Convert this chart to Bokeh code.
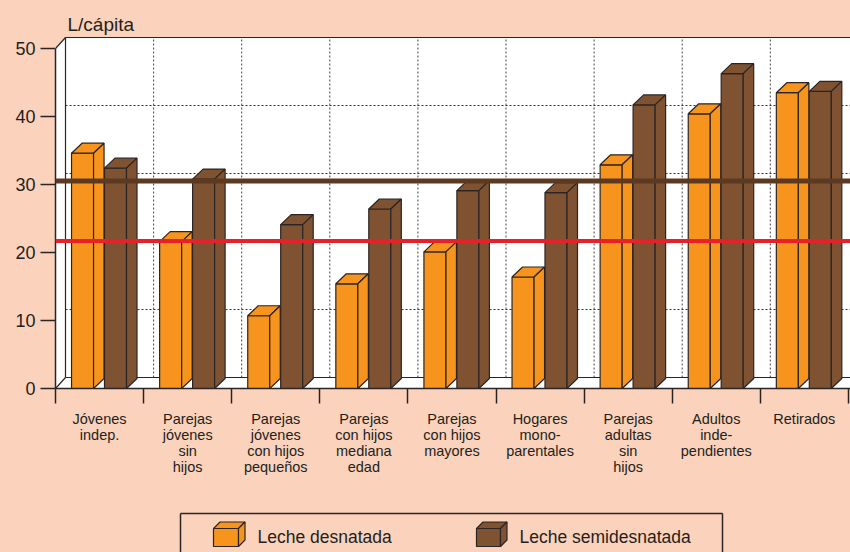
from bokeh.plotting import figure
from bokeh.models import Range1d, FixedTicker, Span, Label
from bokeh.layouts import column
from bokeh.core.properties import value
from bokeh.embed import file_html
from bokeh.resources import INLINE

# ---------------- data ----------------
categories = [
    "Jóvenes\nindep.",
    "Parejas\njóvenes\nsin\nhijos",
    "Parejas\njóvenes\ncon hijos\npequeños",
    "Parejas\ncon hijos\nmediana\nedad",
    "Parejas\ncon hijos\nmayores",
    "Hogares\nmono-\nparentales",
    "Parejas\nadultas\nsin\nhijos",
    "Adultos\ninde-\npendientes",
    "Retirados",
]
desnatada = [34.6, 21.6, 10.7, 15.4, 20.1, 16.4, 32.9, 40.4, 43.5]
semidesnatada = [32.4, 30.8, 24.1, 26.4, 29.1, 28.8, 41.7, 46.3, 43.7]
media_semidesnatada = 30.5
media_desnatada = 21.7
y_ticks = [0, 10, 20, 30, 40, 50]
series_names = ["Leche desnatada", "Leche semidesnatada"]
y_title = "L/cápita"

# ---------------- style ----------------
BG = "#FBD2BC"
ORANGE = "#F7941E"
BROWN = "#7F5331"
EDGE = "#2B2424"
TXT = "#231F20"
LINE_BROWN = "#5C3A21"
LINE_RED = "#E8202A"
FONT = "Liberation Sans"

PX_X = 88.1   # pixels per category
PX_Y = 6.8    # pixels per unit
W, H, LH = 850, 508, 44
LEFT = 55
BOTTOM = H - 388
n = len(categories)
x_end = (W - LEFT) / PX_X
y_end = (H - BOTTOM) / PX_Y
DX = 10 / PX_X
DY = 11 / PX_Y
BDX = 10.5 / PX_X
BDY = 10 / PX_Y
YMAX = y_ticks[-1]

p = figure(width=W, height=H, x_range=Range1d(0, x_end), y_range=Range1d(0, y_end),
           output_backend="svg", toolbar_location=None,
           min_border_left=LEFT, min_border_right=0, min_border_top=0,
           min_border_bottom=BOTTOM)
p.background_fill_color = BG
p.border_fill_color = BG
p.outline_line_color = None
p.grid.visible = False

XR = x_end + 1
# walls
p.patch([0, DX, DX, 0], [0, DY, YMAX + DY, YMAX], fill_color="white", line_color=None)
p.quad(left=[DX], right=[XR], bottom=[DY], top=[YMAX + DY], fill_color="white", line_color=None)
p.patch([0, DX, XR, XR], [0, DY, DY, 0], fill_color="white", line_color=None)

# dashed grid on back wall
p.multi_line([[DX, XR] for v in y_ticks[1:-1]], [[v + DY, v + DY] for v in y_ticks[1:-1]],
             line_color="#333333", line_width=1, line_dash="2 2")
p.multi_line([[k + DX, k + DX] for k in range(1, n + 1)], [[DY, YMAX + DY] for k in range(1, n + 1)],
             line_color="#444444", line_width=1, line_dash="2 2")

# wall edges
p.multi_line(
    [[DX, XR], [DX, DX], [DX, XR], [0, DX], [0, DX]],
    [[YMAX + DY, YMAX + DY], [DY, YMAX + DY], [DY, DY], [YMAX, YMAX + DY], [0, DY]],
    line_color=EDGE, line_width=1.2)

# 3D bars
def bars(values, off, color):
    bw = 0.25
    x0 = [i + off for i in range(n)]
    x1 = [x + bw for x in x0]
    p.quad(left=x0, right=x1, bottom=[0] * n, top=values,
           fill_color=color, line_color=EDGE, line_width=1.2)
    p.patches([[a, a + BDX, b + BDX, b] for a, b in zip(x0, x1)],
              [[h, h + BDY, h + BDY, h] for h in values],
              fill_color=color, line_color=EDGE, line_width=1.2)
    p.patches([[b, b + BDX, b + BDX, b] for b in x1],
              [[0, BDY, h + BDY, h] for h in values],
              fill_color=color, line_color=EDGE, line_width=1.2)

bars(desnatada, 0.182, ORANGE)
bars(semidesnatada, 0.556, BROWN)

p.add_layout(Span(location=media_semidesnatada, dimension="width",
                  line_color=LINE_BROWN, line_width=5))
p.add_layout(Span(location=media_desnatada, dimension="width",
                  line_color=LINE_RED, line_width=4))

p.add_layout(Label(x=12 / PX_X, y=(388 - 24) / PX_Y, text=y_title,
                   text_font=FONT, text_font_size="19px", text_color=TXT,
                   text_baseline="alphabetic"))

# axes
ya = p.yaxis[0]
ya.ticker = FixedTicker(ticks=y_ticks, minor_ticks=[])
ya.bounds = (0, YMAX)
ya.major_tick_out = 15
ya.major_tick_in = 0
ya.minor_tick_out = 0
ya.major_tick_line_color = EDGE
ya.major_tick_line_width = 1.5
ya.axis_line_color = EDGE
ya.axis_line_width = 1.5
ya.major_label_standoff = 5
ya.major_label_text_font = FONT
ya.major_label_text_font_size = "18px"
ya.major_label_text_color = TXT

xa = p.xaxis[0]
xa.ticker = FixedTicker(ticks=[i + 0.5 for i in range(n)], minor_ticks=list(range(n + 1)))
xa.major_label_overrides = {i + 0.5: categories[i] for i in range(n)}
xa.major_tick_line_color = None
xa.major_tick_out = 0
xa.major_tick_in = 0
xa.minor_tick_out = 15
xa.minor_tick_in = 0
xa.minor_tick_line_color = EDGE
xa.minor_tick_line_width = 1.5
xa.axis_line_color = EDGE
xa.axis_line_width = 1.5
xa.major_label_standoff = 7
xa.major_label_text_font = FONT
xa.major_label_text_font_size = "14.5px"
xa.major_label_text_line_height = 1.0
xa.major_label_text_color = TXT

# ---------------- legend strip ----------------
# frame aligned with the main plot's frame (left border LEFT), so x values are page pixels
leg = figure(width=W, height=LH, x_range=Range1d(LEFT, W), y_range=Range1d(0, LH),
             output_backend="svg", toolbar_location=None,
             min_border_left=LEFT, min_border_right=0, min_border_top=0, min_border_bottom=0,
             x_axis_type=None, y_axis_type=None)
leg.background_fill_color = BG
leg.border_fill_color = BG
leg.outline_line_color = None
leg.grid.visible = False
leg.multi_line([[180, 180], [180, 722], [722, 722]], [[-5, 39], [39, 39], [39, -5]],
               line_color=EDGE, line_width=1.5)

def cube(x0, w, y0, h, d, color):
    x1, y1 = x0 + w, y0 + h
    leg.quad(left=[x0], right=[x1], bottom=[y0], top=[y1], fill_color=color,
             line_color=EDGE, line_width=1.2)
    leg.patch([x0, x0 + d, x1 + d, x1], [y1, y1 + d, y1 + d, y1], fill_color=color,
              line_color=EDGE, line_width=1.2)
    leg.patch([x1, x1 + d, x1 + d, x1], [y0, y0 + d, y1 + d, y1], fill_color=color,
              line_color=EDGE, line_width=1.2)

cube(213, 25, 6, 18, 6.5, ORANGE)
cube(476, 24, 6, 18, 6.5, BROWN)
leg.text(x=[257, 519], y=[16, 16], text=series_names, text_font=value(FONT),
         text_font_size="17.5px", text_color=TXT, text_baseline="alphabetic")

layout = column(p, leg, spacing=0)
html = file_html(layout, INLINE)
html = html.replace("</head>",
                    "<style>html,body{margin:0;padding:0;background-color:%s;overflow:hidden;}</style></head>" % BG, 1)
open("out.html", "w").write(html)
